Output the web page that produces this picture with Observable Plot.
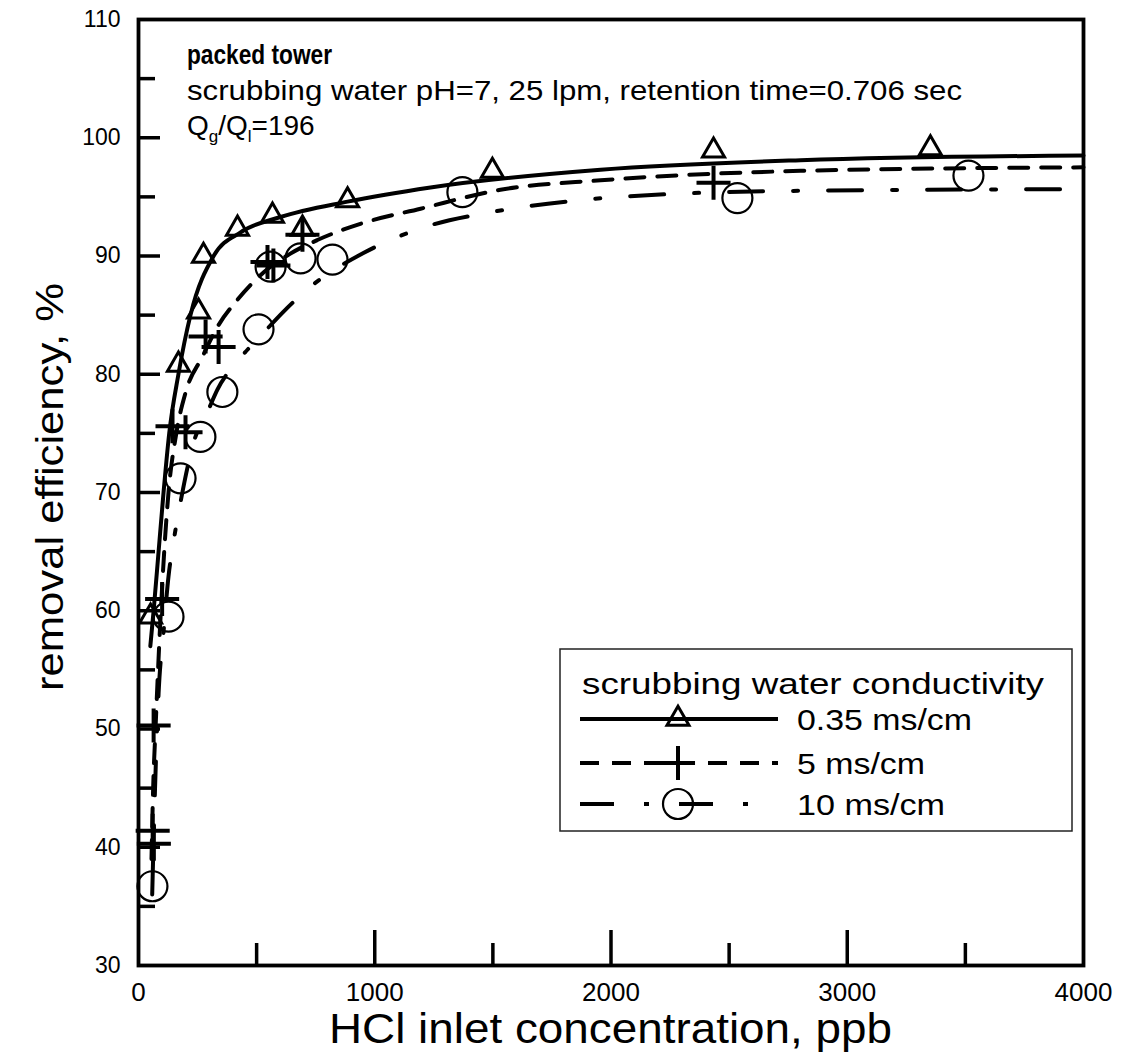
<!DOCTYPE html>
<html><head><meta charset="utf-8">
<script src="https://cdn.jsdelivr.net/npm/d3@7"></script>
<script src="https://cdn.jsdelivr.net/npm/@observablehq/plot@0.6"></script>
<style>body{margin:0;background:#fff} #chart svg{display:block}</style>
</head><body><div id="chart"></div>
<script>
// ---- data ----
const seriesNames = ["0.35 ms/cm", "5 ms/cm", "10 ms/cm"];
// measured points
const triX = [51, 169, 254, 275, 419, 567, 694, 885, 1498, 2434, 3352];
const triY = [59.5, 80.8, 85.3, 90.0, 92.3, 93.4, 92.3, 94.7, 97.2, 98.9, 99.1];
const plusX = [60, 65, 64, 100, 144, 199, 284, 339, 546, 571, 694, 2434];
const plusY = [41.4, 40.3, 50.3, 61.0, 75.6, 75.1, 83.2, 82.3, 89.5, 89.2, 91.8, 96.2];
const circX = [59, 127, 178, 262, 355, 508, 559, 686, 821, 1371, 2535, 3513];
const circY = [36.7, 59.5, 71.2, 74.7, 78.5, 83.8, 89.1, 89.8, 89.7, 95.4, 94.9, 96.8];
// fitted curves
const fit035X = [50, 64, 85, 106, 130, 169, 220, 318, 432, 601, 885, 1236, 1956, 2802, 4000];
const fit035Y = [57.0, 60.0, 65.0, 70.0, 75.0, 80.0, 85.0, 90.0, 92.0, 93.3, 94.6, 95.8, 97.3, 98.1, 98.5];
const fit5X = [55, 62, 72, 85, 100, 127, 160, 200, 271, 334, 419, 529, 643, 757, 952, 1194, 1532, 1956, 2802, 4000];
const fit5Y = [39.0, 45.0, 50.0, 56.0, 62.0, 70.0, 75.0, 78.5, 81.5, 84.0, 86.3, 88.6, 90.2, 91.35, 92.8, 94.0, 95.6, 96.4, 97.2, 97.5];
const fit10X = [58, 70, 85, 106, 127, 148, 178, 233, 296, 334, 432, 529, 614, 728, 952, 1236, 1490, 1913, 2324, 2747, 4000];
const fit10Y = [36.0, 45.0, 53.0, 58.2, 62.9, 65.8, 69.2, 74.2, 77.0, 78.7, 81.4, 83.5, 85.3, 87.4, 90.25, 92.6, 93.7, 94.8, 95.3, 95.5, 95.65];
// ticks
const xTickLabels = [0, 1000, 2000, 3000, 4000];
const xMajorTicks = [1000, 2000, 3000];
const xMinorTicks = [500, 1500, 2500, 3500];
const yTickLabels = [30, 40, 50, 60, 70, 80, 90, 100, 110];
const yMajorTicks = [40, 50, 60, 70, 80, 90, 100];
const yMinorTicks = [35, 45, 55, 65, 75, 85, 95, 105];
const xLabel = "HCl inlet concentration, ppb";
const yLabel = "removal efficiency, %";
const legendTitle = "scrubbing water conductivity";
const noteTitle = "packed tower";
const noteLine = "scrubbing water pH=7, 25 lpm, retention time=0.706 sec";

const pts = (xs, ys) => xs.map((x, i) => ({x, y: ys[i]}));

const W = 1121, H = 1061, mL = 138, mR = 38, mT = 19, mB = 96;
const plotW = W - mL - mR, plotH = H - mT - mB;
const FONT = "'Liberation Sans', Arial, sans-serif";
const DASH5 = "19,13", DASH10 = "34,30,5,30";

const chart = Plot.plot({
  width: W, height: H,
  marginLeft: mL, marginRight: mR, marginTop: mT, marginBottom: mB,
  style: {fontFamily: FONT, background: "white", color: "black"},
  x: {domain: [0, 4000]},
  y: {domain: [30, 110]},
  marks: [
    Plot.line(pts(fit035X, fit035Y), {x: "x", y: "y", curve: "monotone-x", stroke: "black", strokeWidth: 4}),
    Plot.line(pts(fit5X, fit5Y), {x: "x", y: "y", curve: "monotone-x", stroke: "black", strokeWidth: 4, strokeDasharray: DASH5}),
    Plot.line(pts(fit10X, fit10Y), {x: "x", y: "y", curve: "monotone-x", stroke: "black", strokeWidth: 4, strokeDasharray: DASH10}),
    Plot.dot(pts(triX, triY), {x: "x", y: "y", symbol: "triangle2", r: 10.5, stroke: "black", strokeWidth: 3, fill: "none"}),
    Plot.dot(pts(plusX, plusY), {x: "x", y: "y", symbol: "plus", r: 11, stroke: "black", strokeWidth: 4, fill: "none"}),
    Plot.dot(pts(circX, circY), {x: "x", y: "y", symbol: "circle", r: 15, stroke: "black", strokeWidth: 2.2, fill: "none"}),
    Plot.tickY(yMajorTicks, {insetRight: plotW - 22, stroke: "black", strokeWidth: 3.5}),
    Plot.tickY(yMinorTicks, {insetRight: plotW - 17, stroke: "black", strokeWidth: 3.5}),
    Plot.tickX(xMajorTicks, {insetTop: plotH - 35, stroke: "black", strokeWidth: 3.5}),
    Plot.tickX(xMinorTicks, {insetTop: plotH - 22, stroke: "black", strokeWidth: 3.5}),
    Plot.frame({stroke: "black", strokeWidth: 3.8}),
    Plot.axisY(yTickLabels, {anchor: "left", tickSize: 0, tickPadding: 18, fontSize: 23, label: null, tickFormat: d => String(d)}),
    Plot.axisX(xTickLabels, {anchor: "bottom", tickSize: 0, tickPadding: 17, fontSize: 26, label: null, tickFormat: d => String(d)})
  ]
});
document.getElementById("chart").appendChild(chart);

// ---- labels, annotation and legend appended to the same SVG ----
const svg = d3.select(chart);
const fit = (sel, len) => sel.attr("textLength", len).attr("lengthAdjust", "spacingAndGlyphs");
fit(svg.append("text").attr("x", mL + plotW / 2).attr("y", 1043).attr("text-anchor", "middle")
  .attr("font-family", FONT).attr("font-size", 42).text(xLabel), 563);
fit(svg.append("text").attr("transform", `translate(50,487) rotate(-90)`)
  .attr("text-anchor", "middle").attr("dominant-baseline", "central")
  .attr("font-family", FONT).attr("font-size", 38).text(yLabel), 408);

const ann = svg.append("g").attr("font-family", FONT).attr("font-size", 28).attr("text-anchor", "start");
fit(ann.append("text").attr("x", 187).attr("y", 64).attr("font-size", 27).attr("font-weight", "bold").text(noteTitle), 145);
fit(ann.append("text").attr("x", 187).attr("y", 100).text(noteLine), 775);
const q = ann.append("text").attr("x", 187).attr("y", 135);
q.append("tspan").text("Q");
q.append("tspan").attr("font-size", 17).attr("dy", 7).text("g");
q.append("tspan").attr("dy", -7).text("/Q");
q.append("tspan").attr("font-size", 17).attr("dy", 7).text("l");
q.append("tspan").attr("dy", -7).text("=196");

const lg = svg.append("g").attr("font-family", FONT).attr("text-anchor", "start");
lg.append("rect").attr("x", 560).attr("y", 649).attr("width", 512).attr("height", 182)
  .attr("fill", "white").attr("stroke", "#222").attr("stroke-width", 1.5);
fit(lg.append("text").attr("x", 582).attr("y", 694).attr("font-size", 30).text(legendTitle), 462);
const rows = [
  {y: 719, dash: null, sym: d3.symbolTriangle2, r: 10.5, sw: 3, len: 175},
  {y: 763, dash: DASH5, sym: d3.symbolPlus, r: 11, sw: 4, len: 128},
  {y: 804, dash: DASH10, sym: d3.symbolCircle, r: 15, sw: 2.2, len: 148}
];
rows.forEach((row, i) => {
  lg.append("line").attr("x1", 580).attr("x2", 778).attr("y1", row.y).attr("y2", row.y)
    .attr("stroke", "black").attr("stroke-width", 4).attr("stroke-dasharray", row.dash);
  lg.append("path").attr("transform", `translate(678,${row.y})`)
    .attr("d", d3.symbol(row.sym, Math.PI * row.r * row.r)())
    .attr("fill", "none").attr("stroke", "black").attr("stroke-width", row.sw);
  fit(lg.append("text").attr("x", 797).attr("y", row.y + 11).attr("font-size", 30).text(seriesNames[i]), row.len);
});
</script>
</body></html>
